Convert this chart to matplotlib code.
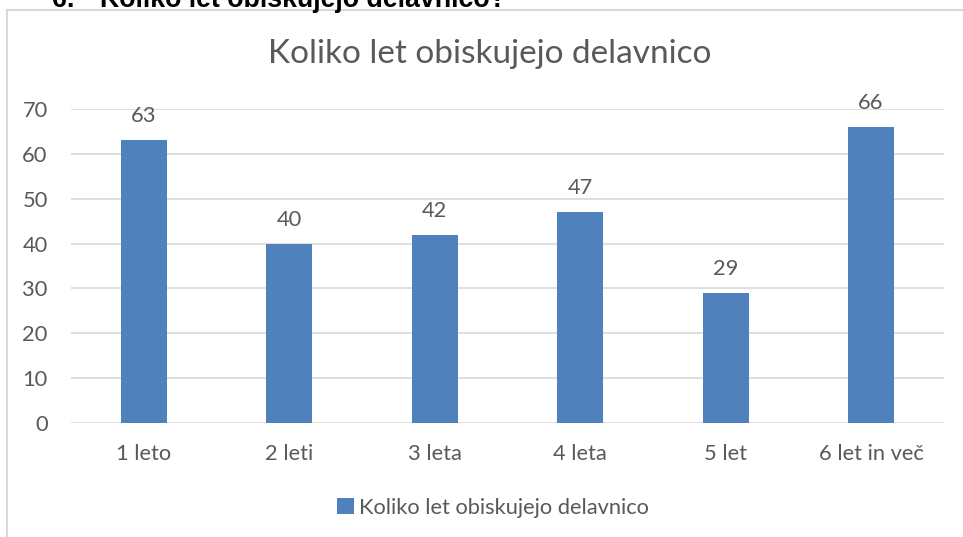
import matplotlib
matplotlib.use("Agg")
import matplotlib.pyplot as plt
from matplotlib.patches import Rectangle, Patch

# ---- data ----
categories = ["1 leto", "2 leti", "3 leta", "4 leta", "5 let", "6 let in več"]
values = [63, 40, 42, 47, 29, 66]
series_name = "Koliko let obiskujejo delavnico"
chart_title = "Koliko let obiskujejo delavnico"
heading_num = "6."
heading_text = "Koliko let obiskujejo delavnico?"
yticks = [0, 10, 20, 30, 40, 50, 60, 70]

W, H = 963, 537
BAR = "#4F81BD"
TXT = "#595959"
GRID = "#D9D9D9"
FONT = "Lato"

fig = plt.figure(figsize=(W / 100, H / 100), dpi=100)
fig.patch.set_facecolor("white")
renderer = fig.canvas.get_renderer()


def fit_size(text, target_px, base=12, **kw):
    t = fig.text(0, 0, text, fontsize=base, **kw)
    w = t.get_window_extent(renderer).width
    t.remove()
    return base * target_px / w


def fx(px):
    return px / W


def fy(py):
    return 1 - py / H


# heading (cut off at the top in the reference)
hsize = fit_size(heading_text, 405, family="Liberation Sans", weight="bold")
fig.text(fx(52), fy(7), heading_num, fontsize=hsize, family="Liberation Sans",
         weight="bold", color="black", ha="left", va="baseline")
fig.text(fx(100), fy(7), heading_text, fontsize=hsize, family="Liberation Sans",
         weight="bold", color="black", ha="left", va="baseline")

# chart frame
fig.patches.append(Rectangle((fx(7), -0.1), 1.2, fy(10) + 0.1, transform=fig.transFigure,
                             fill=False, edgecolor=GRID, linewidth=1.5, clip_on=False))

# sizes
tsize = fit_size(chart_title, 444, family=FONT)
lsize = fit_size(series_name, 291, family=FONT)

# axes
left, right, top, bottom = 71.3, 943.7, 109, 423
ax = fig.add_axes([fx(left), fy(bottom), (right - left) / W, (bottom - top) / H])
x = list(range(len(categories)))
ax.bar(x, values, width=0.317, color=BAR, zorder=3, label=series_name)
ax.set_xlim(-0.5, len(categories) - 0.5)
ax.set_ylim(0, 70)
ax.set_yticks(yticks)
ax.set_xticks(x)
ax.set_xticklabels(categories)
ax.grid(axis="y", color=GRID, linewidth=1.2, zorder=0)
ax.set_axisbelow(True)
for s in ax.spines.values():
    s.set_visible(False)
ax.tick_params(axis="both", length=0, labelcolor=TXT, labelsize=lsize)
ax.tick_params(axis="y", pad=17)
ax.tick_params(axis="x", pad=15)
for lab in ax.get_xticklabels() + ax.get_yticklabels():
    lab.set_family(FONT)
ax.set_facecolor("none")

for xi, v in zip(x, values):
    ax.annotate(str(v), (xi, v), xytext=(0, 13), textcoords="offset points",
                ha="center", va="baseline", fontsize=lsize, color=TXT, family=FONT)

# title
fig.text(fx(490), fy(63), chart_title, fontsize=tsize, color=TXT, family=FONT,
         ha="center", va="baseline")

# legend
handle = Patch(facecolor=BAR, edgecolor="none", label=series_name)
fig.legend(handles=[handle], loc="center", bbox_to_anchor=(fx(493), fy(508)),
           frameon=False, prop={"family": FONT, "size": lsize},
           handlelength=0.75, handleheight=0.75, handletextpad=0.25,
           labelcolor=TXT, borderpad=0)

fig.savefig("out.png", dpi=100)
